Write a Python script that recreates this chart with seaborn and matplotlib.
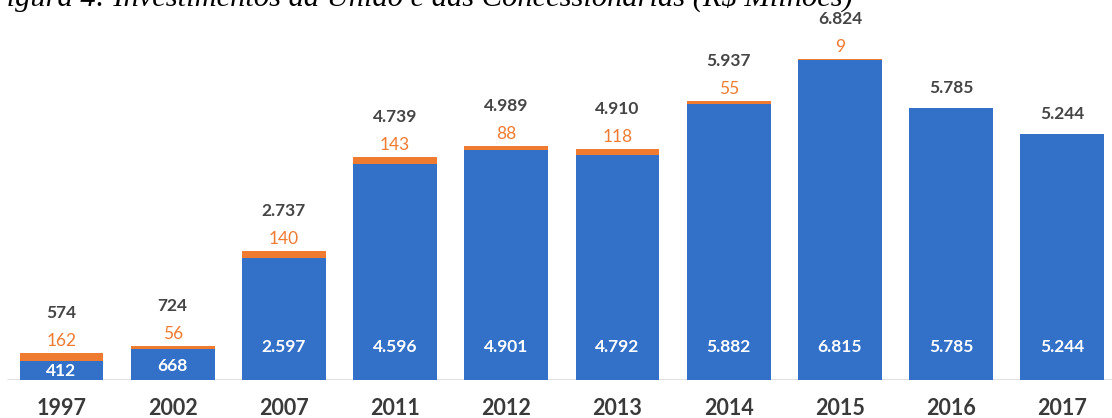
import matplotlib
matplotlib.use("Agg")
import matplotlib.pyplot as plt
import seaborn as sns
import numpy as np

# Investimentos (R$ milhões)
anos = ["1997", "2002", "2007", "2011", "2012", "2013", "2014", "2015", "2016", "2017"]
uniao = [412, 668, 2597, 4596, 4901, 4792, 5882, 6815, 5785, 5244]
concessionarias = [162, 56, 140, 143, 88, 118, 55, 9, 0, 0]

titulo = "Figura 4: Investimentos da União e das Concessionárias (R$ Milhões)"

AZUL = "#3370C7"
LARANJA = "#EE7B30"
CINZA = "#454545"

sns.set_theme(style="white")
plt.rcParams["font.family"] = ["Lato", "DejaVu Sans"]

total = [u + c for u, c in zip(uniao, concessionarias)]


def fmt(v):
    return f"{v:,}".replace(",", ".")


W, H = 1112, 418
fig = plt.figure(figsize=(W / 100, H / 100), dpi=100)
ax = fig.add_axes([0, 38 / H, 1, 380 / H])

largura = 0.755
sns.barplot(x=anos, y=total, color=LARANJA, width=largura, saturation=1,
            ax=ax, edgecolor="none")
sns.barplot(x=anos, y=uniao, color=AZUL, width=largura, saturation=1,
            ax=ax, edgecolor="none")

ax.set_xlim(-0.553, 9.447)
ax.set_ylim(0, 8085)
for s in ax.spines.values():
    s.set_visible(False)
ax.axhline(0, xmin=8 / W, xmax=1, color="#d9d9d9", lw=1.2, zorder=0)
ax.set_yticks([])
ax.set_xlabel("")
ax.set_ylabel("")
ax.tick_params(axis="x", length=0, pad=13)
for lbl in ax.get_xticklabels():
    lbl.set_fontsize(15.5)
    lbl.set_fontweight("bold")
    lbl.set_color("#3a3a3a")

for i, (u, c, t) in enumerate(zip(uniao, concessionarias, total)):
    # rótulo branco dentro da barra azul
    y_in = min(700, u * 0.45)
    ax.text(i, y_in, fmt(u), ha="center", va="center", color="white",
            fontsize=12.5, fontweight="bold")
    if c > 0:
        ax.annotate(fmt(c), (i, t), xytext=(0, 12), textcoords="offset pixels",
                    ha="center", va="center", color=LARANJA, fontsize=12.5)
        ax.annotate(fmt(t), (i, t), xytext=(0, 40), textcoords="offset pixels",
                    ha="center", va="center", color=CINZA, fontsize=12.5,
                    fontweight="bold")
    else:
        ax.annotate(fmt(t), (i, t), xytext=(0, 20), textcoords="offset pixels",
                    ha="center", va="center", color=CINZA, fontsize=12.5,
                    fontweight="bold")

# título em itálico, ajustado para ocupar de -12 px até 853 px
tit = fig.text(853 / W, (H - 6) / H, titulo, ha="right", va="baseline",
               fontsize=20, fontstyle="italic", family=["Liberation Serif"],
               color="black")
rend = fig.canvas.get_renderer()
larg = tit.get_window_extent(rend).width
tit.set_fontsize(20 * 865 / larg)

fig.savefig("out.png", dpi=100, facecolor="white")
